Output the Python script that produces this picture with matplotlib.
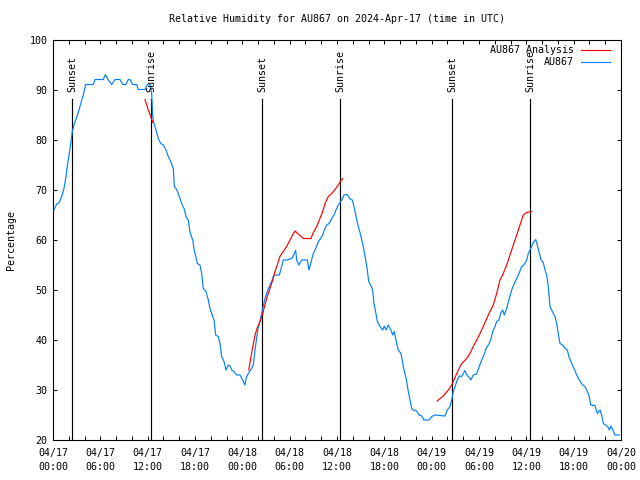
import matplotlib
matplotlib.use("Agg")
import matplotlib.pyplot as plt
import matplotlib.dates as mdates
import pandas as pd
import numpy as np

START = pd.Timestamp("2024-04-17 00:00")

# Observations (hours since 04/17 00:00 UTC, relative humidity %)
obs_hours = [0.13, 0.47, 0.80, 1.10, 1.39, 1.61, 1.86, 2.07, 2.28, 2.45, 2.70, 3.00, 3.30, 3.55, 3.84, 4.14,
             5.11, 5.32, 6.38, 6.63, 7.01, 7.44, 7.86, 8.49, 8.84, 9.25, 9.54, 9.76, 10.10, 10.61, 10.81,
             11.66, 11.95, 12.30, 12.51, 12.59, 12.64, 12.80, 13.06, 13.35, 13.65, 13.98, 14.32, 14.62,
             14.92, 15.25, 15.38, 15.68, 16.01, 16.31, 16.61, 16.90, 17.15, 17.37, 17.71, 17.87, 18.13,
             18.29, 18.63, 18.85, 19.05, 19.39, 19.69, 19.90, 20.12, 20.41, 20.62, 20.95, 21.17, 21.38,
             21.68, 21.93, 22.22, 22.44, 22.65, 22.94, 23.29, 23.70, 24.05, 24.30, 24.55, 24.76, 25.06,
             25.39, 25.61, 25.82, 26.02, 26.24, 26.45, 26.66, 26.87, 27.16, 27.42, 27.72, 27.93, 28.14,
             28.69, 28.99, 29.19, 29.62, 30.26, 30.59, 30.76, 30.89, 31.18, 31.52, 32.23, 32.45, 32.79,
             33.00, 33.30, 33.63, 33.93, 34.19, 34.39, 34.69, 35.02, 35.33, 35.62, 35.87, 36.16, 36.60,
             36.89, 37.30, 37.65, 37.94, 38.15, 38.41, 38.70, 39.00, 39.33, 39.64, 39.84, 40.02, 40.27,
             40.52, 40.69, 40.91, 41.11, 41.45, 41.79, 42.00, 42.21, 42.50, 42.84, 43.06, 43.26, 43.57,
             43.77, 44.11, 44.40, 44.62, 44.83, 45.04, 45.25, 45.47, 45.67, 46.10, 46.39, 46.74, 47.03,
             47.70, 48.00, 48.42, 49.06, 49.69, 49.98, 50.32, 50.61, 50.74, 50.96, 51.25, 51.50, 51.81,
             52.01, 52.22, 52.44, 52.77, 52.98, 53.27, 53.70, 54.03, 54.34, 54.63, 54.89, 55.18, 55.48,
             55.74, 56.03, 56.24, 56.53, 56.79, 57.00, 57.21, 57.51, 57.84, 58.14, 58.47, 58.78, 59.07,
             59.41, 59.70, 60.05, 60.25, 60.55, 60.88, 61.19, 61.39, 61.60, 61.86, 62.15, 62.37, 62.58,
             62.78, 63.00, 63.29, 63.63, 63.85, 64.05, 64.27, 64.61, 64.90, 65.19, 65.41, 65.75, 66.04,
             66.38, 66.71, 67.14, 67.44, 67.73, 67.98, 68.16, 68.70, 68.99, 69.34, 69.55, 69.76, 70.06,
             70.31, 70.52, 70.73, 70.95, 71.24, 71.78]
obs_rh = [66.1, 67.2, 67.5, 68.7, 70.3, 72.3, 75.3, 77.3, 79.7, 81.7, 83.3, 84.5, 86.0, 87.5, 89.0, 91.1,
          91.1, 92.1, 92.1, 93.1, 92.0, 91.1, 92.1, 92.1, 91.1, 91.1, 92.1, 92.1, 91.1, 91.1, 90.1,
          90.1, 91.1, 91.1, 89.3, 86.7, 84.7, 83.3, 82.0, 80.3, 79.3, 79.0, 78.0, 76.7,
          75.7, 74.3, 70.7, 70.1, 68.7, 67.3, 66.3, 64.5, 64.0, 61.5, 60.0, 58.2, 56.5,
          55.3, 55.0, 53.3, 50.3, 49.7, 48.0, 46.3, 45.3, 44.0, 41.0, 40.7, 39.3, 36.7,
          35.7, 34.0, 35.0, 34.8, 34.0, 33.7, 33.0, 33.0, 32.0, 31.0, 32.7, 33.3, 34.0,
          35.0, 38.0, 40.5, 42.5, 43.8, 45.3, 46.7, 48.3, 49.7, 50.7, 51.7, 52.7, 53.0,
          53.0, 54.7, 56.0, 56.0, 56.3, 57.3, 57.9, 56.0, 55.0, 56.0, 56.0, 54.0, 56.0,
          57.3, 58.3, 59.7, 60.3, 61.0, 62.0, 63.0, 63.3, 64.3, 65.0, 66.0, 67.0, 68.0,
          69.0, 69.1, 68.2, 68.0, 66.7, 64.7, 62.7, 61.0, 58.7, 56.0, 54.0, 51.7, 51.0,
          50.0, 47.3, 45.5, 43.7, 42.7, 42.0, 42.8, 42.0, 43.0, 42.0, 41.0, 41.7, 39.3,
          38.0, 37.3, 34.7, 33.3, 31.7, 29.7, 28.0, 26.3, 26.0, 25.8, 25.0, 24.8, 24.0,
          24.0, 24.7, 25.0, 24.9, 24.8, 26.0, 26.7, 28.5, 29.7, 30.7, 32.0, 32.8, 32.7,
          33.3, 33.9, 33.0, 32.5, 32.0, 33.0, 33.2, 34.7, 36.0, 37.0, 38.3, 39.0, 40.0,
          41.7, 42.7, 43.7, 44.0, 45.5, 46.0, 45.0, 46.3, 48.3, 50.0, 51.3, 52.3, 53.3,
          54.7, 55.0, 56.0, 57.3, 58.3, 59.5, 60.1, 59.0, 57.7, 56.0, 55.5, 54.0, 53.0,
          50.7, 46.7, 45.7, 44.7, 43.3, 41.3, 39.3, 39.0, 38.3, 38.0, 36.7, 35.3, 34.3,
          33.0, 32.0, 31.0, 30.7, 29.7, 28.7, 27.0, 26.9, 25.3, 26.0, 25.0, 23.3, 23.0,
          22.7, 22.0, 22.8, 22.0, 21.0, 21.0]

# Analysis segments
ana1_hours = [11.66, 12.08, 12.38, 12.64]
ana1_rh = [88.1, 86.0, 84.7, 83.5]
ana2_hours = [24.81, 25.06, 25.31, 25.61, 25.90, 26.24, 26.58, 26.87, 27.16, 27.50, 27.85, 28.14, 28.43,
              28.77, 29.19, 29.62, 30.04, 30.38, 30.68, 31.09, 31.73, 32.70, 33.00, 33.43, 33.76, 34.19,
              34.48, 34.90, 35.33, 35.75, 36.16, 36.47, 36.72]
ana2_rh = [34.0, 36.3, 38.5, 41.0, 42.5, 43.6, 45.3, 47.0, 48.7, 50.3, 52.0, 53.7, 55.0,
           56.7, 57.7, 58.7, 60.0, 61.0, 61.8, 61.2, 60.3, 60.3, 61.5, 62.7, 64.0, 65.7,
           67.3, 68.7, 69.3, 70.1, 71.0, 71.8, 72.3]
ana3_hours = [48.71, 49.47, 50.11, 50.54, 50.96, 51.38, 51.81, 52.44, 52.86, 53.28, 53.71, 54.13, 54.54,
              54.98, 55.39, 55.81, 56.24, 56.66, 57.08, 57.51, 57.93, 58.35, 58.78, 59.20, 59.62, 60.05,
              60.68]
ana3_rh = [27.8, 28.8, 30.0, 31.0, 32.5, 34.0, 35.3, 36.3, 37.3, 38.7, 40.0, 41.3, 42.7,
           44.3, 45.7, 47.0, 49.3, 52.0, 53.3, 55.0, 57.0, 59.0, 61.0, 63.0, 65.0, 65.5,
           65.7]

# Sun events
sun_labels = ["Sunset", "Sunrise", "Sunset", "Sunrise", "Sunset", "Sunrise"]
sun_hours = [2.45, 12.42, 26.53, 36.42, 50.61, 60.50]

title = "Relative Humidity for AU867 on 2024-Apr-17 (time in UTC)"
ylabel = "Percentage"
y_ticks = [20, 30, 40, 50, 60, 70, 80, 90, 100]


def to_time(h):
    return START + pd.to_timedelta(np.asarray(h, dtype=float), unit="h")


FONT = "DejaVu Sans Mono"
FS = 7.2
plt.rcParams["font.family"] = [FONT]
plt.rcParams["font.size"] = FS

RED = "#ff0000"
BLUE = "#0080ff"
LW = 0.85

fig = plt.figure(figsize=(6.4, 4.8), dpi=100)
ax = fig.add_axes([53 / 640, 40 / 480, 568 / 640, 400 / 480])

ax.plot(to_time(obs_hours), obs_rh, color=BLUE, lw=LW, zorder=3)
for hh, vv in [(ana1_hours, ana1_rh), (ana2_hours, ana2_rh), (ana3_hours, ana3_rh)]:
    ax.plot(to_time(hh), vv, color=RED, lw=LW, zorder=4)

for lab, h in zip(sun_labels, sun_hours):
    t = to_time([h])[0]
    ax.plot([t, t], [20, 88.2], color="black", lw=LW, zorder=2)
    ax.text(t, 89.6, lab, rotation=90, ha="center", va="bottom", fontsize=FS, zorder=5)

ax.set_xlim(to_time([0])[0], to_time([72])[0])
ax.set_ylim(20, 100)
ax.set_yticks(y_ticks)

ax.xaxis.set_major_locator(mdates.HourLocator(byhour=[0, 6, 12, 18]))
ax.xaxis.set_minor_locator(mdates.HourLocator(byhour=range(0, 24, 2)))
ax.xaxis.set_major_formatter(mdates.DateFormatter("%m/%d\n%H:%M"))

ax.tick_params(axis="both", which="both", direction="in", top=True, right=True,
               length=3, width=0.7, labelsize=FS)
ax.tick_params(axis="x", which="major", pad=6)
ax.tick_params(axis="y", which="major", pad=4)
for lab in ax.get_xticklabels():
    lab.set_linespacing(1.4)
for s in ax.spines.values():
    s.set_linewidth(0.8)

fig.text(337 / 640, 1 - 19 / 480, title, ha="center", va="center", fontsize=FS)
fig.text(11 / 640, 0.5, ylabel, rotation=90, ha="center", va="center", fontsize=FS)

# key (gnuplot style: right-justified text, sample to the right)
rows = [("AU867 Analysis", RED), ("AU867", BLUE)]
for i, (lab, col) in enumerate(rows):
    yy = 0.975 - i * 0.03
    ax.text(0.9173, yy, lab, transform=ax.transAxes, ha="right", va="center", fontsize=FS)
    ax.plot([0.9296, 0.9806], [yy, yy], transform=ax.transAxes, color=col, lw=LW,
            clip_on=False)

fig.savefig("out.png", dpi=100)
